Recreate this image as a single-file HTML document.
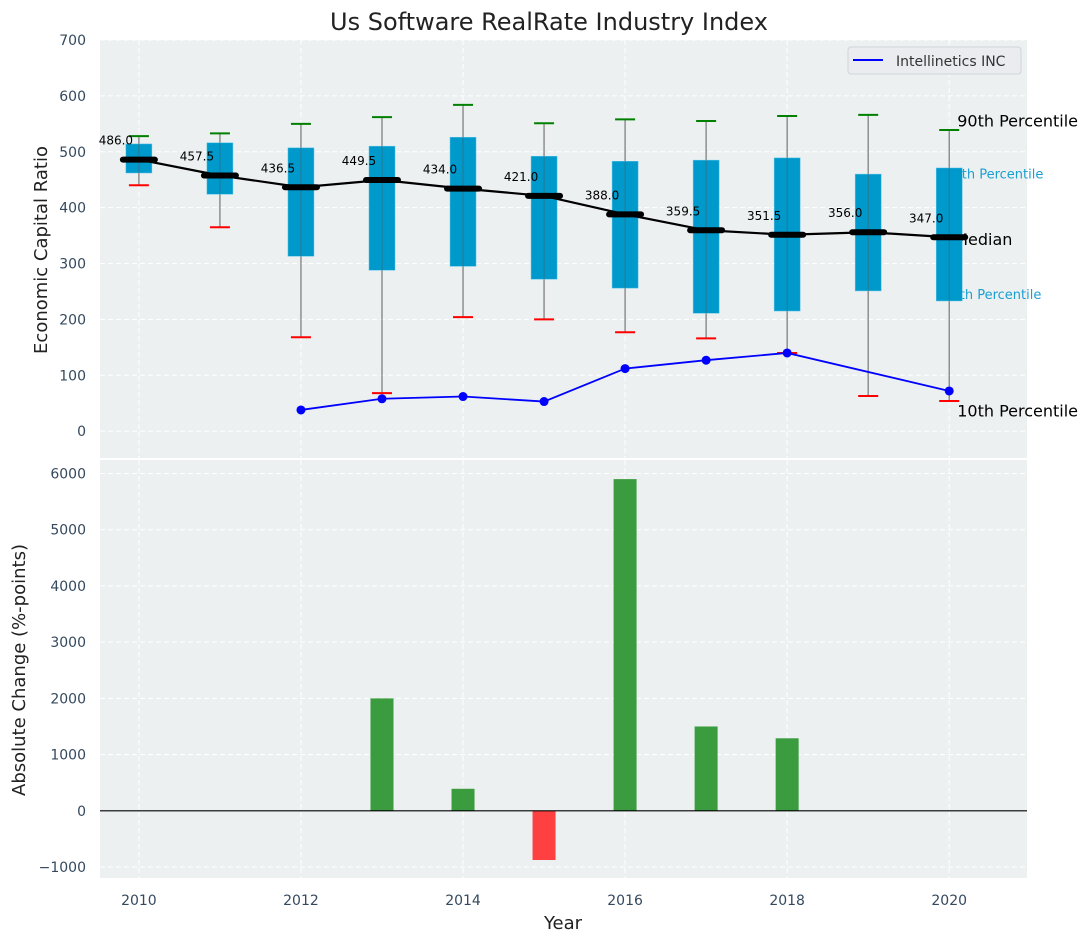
<!DOCTYPE html>
<html><head><meta charset="utf-8">
<style>
body{margin:0;background:#fff;}
svg text{font-family:"DejaVu Sans","Liberation Sans",sans-serif;}
</style></head>
<body>
<svg id="chart" width="1092" height="942" viewBox="0 0 1092 942" xmlns="http://www.w3.org/2000/svg">
<text x="549" y="30" text-anchor="middle" font-size="24" fill="#222">Us Software RealRate Industry Index</text>
<g id="topPanel"></g>
<g id="botPanel"></g>
<text transform="translate(47,250) rotate(-90)" text-anchor="middle" font-size="18" fill="#222">Economic Capital Ratio</text>
<text transform="translate(25,670) rotate(-90)" text-anchor="middle" font-size="18" fill="#222">Absolute Change (%-points)</text>
<text x="563" y="929" text-anchor="middle" font-size="18" fill="#222">Year</text>
</svg>
<script>
const years=[2010,2011,2012,2013,2014,2015,2016,2017,2018,2019,2020];
const p10=[440,365,168,68,204,200,177,166,140,63,54];
const p25=[462,424,313,288,295,272,256,211,215,251,233];
const p50=[486,457.5,436.5,449.5,434,421,388,359.5,351.5,356,347];
const p75=[514,516,507,510,526,492,483,485,489,460,471];
const p90=[528,533,550,562,584,551,558,555,564,566,539];
const companyYears=[2012,2013,2014,2015,2016,2017,2018,2020];
const companyVals=[38,58,62,53,112,127,140,72];
const changeYears=[2013,2014,2015,2016,2017,2018];
const changeVals=[2000,392,-875,5900,1500,1290];
const topTicks=[0,100,200,300,400,500,600,700];
const botTicks=[-1000,0,1000,2000,3000,4000,5000,6000];
const xTicks=[2010,2012,2014,2016,2018,2020];

const NS="http://www.w3.org/2000/svg";
const AX={l:100,r:1027};
const X=y=>AX.l+(y-2009.52)*(AX.r-AX.l)/(2020.96-2009.52);
const T={t:40,b:458,min:-48,max:700};
const YT=v=>T.b-(v-T.min)*(T.b-T.t)/(T.max-T.min);
const B={t:460,b:878,min:-1195,max:6240};
const YB=v=>B.b-(v-B.min)*(B.b-B.t)/(B.max-B.min);
function mk(tag,attrs,parent,txt){const e=document.createElementNS(NS,tag);for(const k in attrs)e.setAttribute(k,attrs[k]);if(txt!==undefined)e.textContent=txt;parent.appendChild(e);return e;}
const topG=document.getElementById('topPanel'),botG=document.getElementById('botPanel');
const tickCol="#34495e";

let bg=mk('rect',{x:AX.l,y:T.t,width:AX.r-AX.l,height:T.b-T.t,fill:"#ecf0f1"},topG);


let bg2=mk('rect',{x:AX.l,y:B.t,width:AX.r-AX.l,height:B.b-B.t,fill:"#ecf0f1"},botG);


xTicks.forEach(y=>{
  mk('line',{x1:X(y),x2:X(y),y1:T.t,y2:T.b,stroke:"#fff","stroke-dasharray":"5,3"},topG);
  mk('line',{x1:X(y),x2:X(y),y1:B.t,y2:B.b,stroke:"#fff","stroke-dasharray":"5,3"},botG);
  const t=mk('text',{x:X(y),y:905,"text-anchor":"middle","font-size":14,fill:tickCol},botG,String(y));
  
  
});
topTicks.forEach(v=>{
  mk('line',{x1:AX.l,x2:AX.r,y1:YT(v),y2:YT(v),stroke:"#fff","stroke-dasharray":"5,3"},topG);
  const t=mk('text',{x:86,y:YT(v)+5,"text-anchor":"end","font-size":14,fill:tickCol},topG,String(v));
  
  
});
botTicks.forEach(v=>{
  mk('line',{x1:AX.l,x2:AX.r,y1:YB(v),y2:YB(v),stroke:"#fff","stroke-dasharray":"5,3"},botG);
  const t=mk('text',{x:86,y:YB(v)+5,"text-anchor":"end","font-size":14,fill:tickCol},botG,(v<0?"\u2212"+(-v):String(v)));
  
  
});
const ax2020=X(2020);
const ann=[["90th Percentile",p90[10]+17,16,"#000",ax2020+8],["75th Percentile",p75[10]-8,13,"#1a9fd0",ax2020-4],["Median",p50[10]-3,16,"#000",ax2020+5],["25th Percentile",p25[10]+14,13,"#1a9fd0",ax2020-6],["10th Percentile",p10[10]-17,16,"#000",ax2020+8]];
ann.forEach(a=>{
  const t=mk('text',{x:a[4],y:YT(a[1])+6,"font-size":a[2],fill:a[3]},topG,a[0]);
  
  
});
years.forEach((y,i)=>{
  const x=X(y);
  const w=mk('line',{x1:x,x2:x,y1:YT(p10[i]),y2:YT(p90[i]),stroke:"#777","stroke-width":1.2},topG);
  
  
  const b=mk('rect',{x:x-13,y:YT(p75[i]),width:26,height:YT(p25[i])-YT(p75[i]),fill:"#0099cc",stroke:"#5bc4e6","stroke-width":0.5},topG);
  
  
  mk('line',{x1:x,x2:x,y1:YT(p75[i]),y2:YT(p25[i]),stroke:"#555","stroke-width":0.8,opacity:0.6},topG);
  const g=mk('line',{x1:x-10,x2:x+10,y1:YT(p90[i]),y2:YT(p90[i]),stroke:"green","stroke-width":2},topG);
  
  
  const r=mk('line',{x1:x-10,x2:x+10,y1:YT(p10[i]),y2:YT(p10[i]),stroke:"red","stroke-width":2},topG);
  
  
});
const ml=mk('polyline',{points:years.map((y,i)=>X(y)+","+YT(p50[i])).join(" "),fill:"none",stroke:"#000","stroke-width":2.2},topG);


years.forEach((y,i)=>{
  const x=X(y);
  const m=mk('line',{x1:x-16,x2:x+16,y1:YT(p50[i]),y2:YT(p50[i]),stroke:"#000","stroke-width":6,"stroke-linecap":"round"},topG);
  
  
  const t=mk('text',{x:x-23,y:YT(p50[i])-15,"text-anchor":"middle","font-size":12,fill:"#000"},topG,p50[i].toFixed(1));
  
  
});
const cl=mk('polyline',{points:companyYears.map((y,i)=>X(y)+","+YT(companyVals[i])).join(" "),fill:"none",stroke:"#0000ff","stroke-width":1.8},topG);


companyYears.forEach((y,i)=>{
  const c=mk('circle',{cx:X(y),cy:YT(companyVals[i]),r:4.5,fill:"#0000ff"},topG);
  
  
});
const lg=mk('g',{},topG);


mk('rect',{x:848,y:47,width:173,height:27,rx:3,fill:"#eaecf0",stroke:"#d0d3d8"},lg);
mk('line',{x1:853,x2:883,y1:60,y2:60,stroke:"#0000ff","stroke-width":2},lg);
const lt=mk('text',{x:896,y:66,"font-size":14,fill:"#333"},lg,"Intellinetics INC");


changeYears.forEach((y,i)=>{
  const v=changeVals[i];
  const b=mk('rect',{x:X(y)-11.5,y:Math.min(YB(v),YB(0)),width:23,height:Math.abs(YB(v)-YB(0)),fill:v>=0?"#3a9c3e":"#ff4040"},botG);
  
  
});
const z=mk('line',{x1:AX.l,x2:AX.r,y1:YB(0),y2:YB(0),stroke:"#000","stroke-width":1.2},botG);


</script>
</body></html>
